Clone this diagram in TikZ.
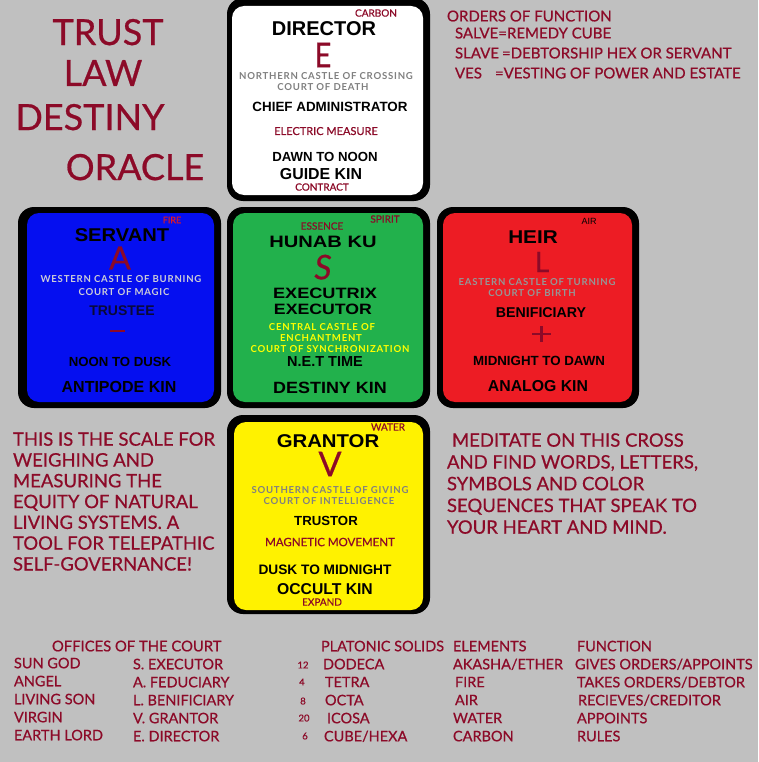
\documentclass[tikz,border=0pt]{standalone}
\usepackage{fontspec}
\setmainfont[FakeBold=0.6]{Lato}
\newfontfamily\arial{Liberation Sans}
\newfontfamily\castle[LetterSpace=8]{Lato}
\newcommand\fs[1]{\fontsize{#1}{#1}\selectfont}
\newcommand\wide[2]{\scalebox{#1}[1]{#2}}
\definecolor{bg}{RGB}{192,192,192}
\definecolor{maroon}{RGB}{140,10,40}
\definecolor{bblue}{RGB}{5,15,240}
\definecolor{bgreen}{RGB}{34,177,76}
\definecolor{bred}{RGB}{237,28,36}
\definecolor{byellow}{RGB}{255,242,0}
\definecolor{gray1}{RGB}{128,128,128}
\definecolor{gray2}{RGB}{150,150,150}
\definecolor{lgray}{RGB}{205,205,215}
\definecolor{yel}{RGB}{255,255,0}
\definecolor{navy}{RGB}{10,10,55}
\definecolor{firered}{RGB}{225,25,35}
\begin{document}
\begin{tikzpicture}[x=1pt,y=-1pt,
  every node/.style={inner sep=0pt,outer sep=0pt,text depth=0pt},
  hd/.style={font=\arial\bfseries\fs{18.5}},
  bd/.style={font=\arial\bfseries\fs{#1}},
  mr/.style={text=maroon,font=\fs{#1}},
  cs/.style={font=\castle\bfseries\fs{#1}},
  big/.style={text=maroon,font=\fs{34}},
  lw/.style={anchor=west,text=maroon,font=\fs{#1}},
  ttl/.style={text=maroon,font=\fs{36}},
  outerbox/.style={fill=black,rounded corners=16pt},
  innerbox/.style={rounded corners=12pt}]
\fill[bg] (0,0) rectangle (758,762);
\useasboundingbox (0,0) rectangle (758,762);
% boxes
\fill[outerbox] (227,-2) rectangle (430,201);
\fill[innerbox,fill=white] (232,6) rectangle (423,195);
\fill[outerbox] (18,207) rectangle (221,408);
\fill[innerbox,fill=bblue] (27,213) rectangle (214,402);
\fill[outerbox] (227,207) rectangle (430,408);
\fill[innerbox,fill=bgreen] (233,213) rectangle (423,402);
\fill[outerbox] (437,207) rectangle (639,408);
\fill[innerbox,fill=bred] (443,213) rectangle (632,402);
\fill[outerbox] (227,415) rectangle (430,614);
\fill[innerbox,fill=byellow] (234,422) rectangle (423,610);
% title
\node[ttl] (trust) at (108,32) {TRUST};
\node[ttl] (law) at (103,73) {LAW};
\node[ttl] (destiny) at (90,117) {DESTINY};
\node[ttl] (oracle) at (135,167) {ORACLE};
% top box
\node[mr=10] (carbon) at (376,13) {CARBON};
\node[hd,font=\arial\bfseries\fs{20}] (director) at (324,29) {DIRECTOR};
\node[big] (e) at (323,55) {\wide{0.85}{E}};
\node[cs=9.6,text=gray1] (nc1) at (326,76) {NORTHERN CASTLE OF CROSSING};
\node[cs=9.6,text=gray1] (nc2) at (323,87) {COURT OF DEATH};
\node[bd=13.4] (chief) at (330,107) {CHIEF ADMINISTRATOR};
\node[mr=11] (electric) at (326,131) {ELECTRIC MEASURE};
\node[bd=13.2] (dawn) at (325,157) {DAWN TO NOON};
\node[bd=15.9] (guide) at (321,174) {GUIDE KIN};
\node[mr=10] (contract) at (322,187) {CONTRACT};
% left box
\node[text=firered,font=\fs{9}] (fire) at (172,220) {FIRE};
\node[hd] (servant) at (122,235) {\wide{1.09}{SERVANT}};
\node[big,font=\fs{32}] (a) at (120,258) {A};
\node[cs=9.6,text=lgray] (wc1) at (121,279) {WESTERN CASTLE OF BURNING};
\node[cs=9.6,text=lgray] (wc2) at (124,292) {COURT OF MAGIC};
\node[bd=14,text=navy] (trustee) at (122,311) {TRUSTEE};
\draw[maroon,line width=2.5pt] (110,331) -- (125,331);
\node[bd=13.2,text=black] (noon) at (120,362) {NOON TO DUSK};
\node[bd=16,text=black] (antipode) at (119,387) {ANTIPODE KIN};
% center box
\node[mr=10] (essence) at (322,226) {ESSENCE};
\node[mr=10] (spirit) at (385,219) {SPIRIT};
\node[hd,font=\arial\bfseries\fs{16.5}] (hunab) at (323,242) {\wide{1.22}{HUNAB KU}};
\node[big,font=\itshape\fs{34}] (s) at (323,267) {S};
\node[bd=15] (executrix) at (325,293) {\wide{1.21}{EXECUTRIX}};
\node[bd=15] (executor) at (323,309) {\wide{1.18}{EXECUTOR}};
\node[cs=9.6,text=yel] (cc1) at (322,327) {CENTRAL CASTLE OF};
\node[cs=9.6,text=yel] (cc2) at (321,338) {ENCHANTMENT};
\node[cs=9.6,text=yel] (cc3) at (330,349) {COURT OF SYNCHRONIZATION};
\node[bd=14.5] (net) at (325,362) {N.E.T TIME};
\node[bd=16.3] (destinykin) at (330,388) {\wide{1.1}{DESTINY KIN}};
% right box
\node[font=\arial\fs{9}] (air) at (589,221) {AIR};
\node[hd] (heir) at (533,237) {\wide{1.12}{HEIR}};
\node[big,font=\fs{28}] (l) at (542,262) {L};
\node[cs=9.6,text=gray2] (ec1) at (537,282) {EASTERN CASTLE OF TURNING};
\node[cs=9.6,text=gray2] (ec2) at (532,293) {COURT OF BIRTH};
\node[bd=14.2] (benif) at (541,313) {BENIFICIARY};
\draw[maroon,line width=2.2pt] (532,334) -- (551,334) (541.5,326) -- (541.5,342);
\node[bd=13.3] (midnight) at (539,361) {MIDNIGHT TO DAWN};
\node[bd=15.8] (analog) at (538,386) {ANALOG KIN};
% bottom box
\node[mr=10] (water) at (388,427) {WATER};
\node[hd] (grantor) at (328,441) {\wide{1.1}{GRANTOR}};
\node[big] (v) at (330,464) {V};
\node[cs=9.6,text=gray1] (sc1) at (330,490) {SOUTHERN CASTLE OF GIVING};
\node[cs=9.6,text=gray1] (sc2) at (329,501) {COURT OF INTELLIGENCE};
\node[bd=13.2] (trustor) at (326,521) {TRUSTOR};
\node[mr=11.5] (magnetic) at (330,542) {MAGNETIC MOVEMENT};
\node[bd=13.7] (dusk) at (325,570) {DUSK TO MIDNIGHT};
\node[bd=15.7] (occult) at (325,589) {OCCULT KIN};
\node[mr=10] (expand) at (322,602) {EXPAND};
% top right
\node[lw=15] (orders) at (447,16) {ORDERS OF FUNCTION};
\node[lw=15] (salve) at (455,33) {SALVE=REMEDY CUBE};
\node[lw=15] (slave) at (455,53) {SLAVE\hspace{3pt}=DEBTORSHIP HEX OR SERVANT};
\node[lw=15] (ves) at (455,73) {VES\hspace{13pt}=VESTING OF POWER AND ESTATE};
% left paragraph
\node[lw=18.5] (p1) at (13,439) {THIS IS THE SCALE FOR};
\node[lw=18.5] (p2) at (13,459.8) {WEIGHING AND};
\node[lw=18.5] (p3) at (13,480.6) {MEASURING THE};
\node[lw=18.5] (p4) at (13,501.4) {EQUITY OF NATURAL};
\node[lw=18.5] (p5) at (13,522.2) {LIVING SYSTEMS. A};
\node[lw=18.5] (p6) at (13,543) {TOOL FOR TELEPATHIC};
\node[lw=18.5] (p7) at (13,563.8) {SELF-GOVERNANCE!};
% right paragraph
\node[lw=18.5] (m1) at (452,440) {MEDITATE ON THIS CROSS};
\node[lw=18.5] (m2) at (447,461.8) {AND FIND WORDS, LETTERS,};
\node[lw=18.5] (m3) at (447,483.5) {SYMBOLS AND COLOR};
\node[lw=18.5] (m4) at (447,505.3) {SEQUENCES THAT SPEAK TO};
\node[lw=18.5] (m5) at (447,527) {YOUR HEART AND MIND.};
% table
\node[lw=14.8] (offices) at (52,646) {OFFICES OF THE COURT};
\node[lw=14.5] (o1) at (14,663) {SUN GOD};
\node[lw=14.5] (o2) at (14,681) {ANGEL};
\node[lw=14.5] (o3) at (14,699) {LIVING SON};
\node[lw=14.5] (o4) at (14,717) {VIRGIN};
\node[lw=14.5] (o5) at (14,735) {EARTH LORD};
\node[lw=14.5] (c1) at (133,664) {S. EXECUTOR};
\node[lw=14.5] (c2) at (133,682) {A. FEDUCIARY};
\node[lw=14.5] (c3) at (133,700) {L. BENIFICIARY};
\node[lw=14.5] (c4) at (133,718) {V. GRANTOR};
\node[lw=14.5] (c5) at (133,736) {E. DIRECTOR};
\node[mr=9.5] (n1) at (303,665) {12};
\node[mr=9.5] (n2) at (302,682) {4};
\node[mr=9.5] (n3) at (303,701) {8};
\node[mr=9.5] (n4) at (304,718) {20};
\node[mr=9.5] (n5) at (305,736) {6};
\node[lw=14.5] (platonic) at (321,646) {PLATONIC SOLIDS};
\node[lw=14.5] (s1) at (323,664) {DODECA};
\node[lw=14.5] (s2) at (325,682) {TETRA};
\node[lw=14.5] (s3) at (325,700) {OCTA};
\node[lw=14.5] (s4) at (327,718) {ICOSA};
\node[lw=14.5] (s5) at (324,736) {CUBE/HEXA};
\node[lw=14.5] (elements) at (453,646) {ELEMENTS};
\node[lw=14.5] (e1) at (453,664) {AKASHA/ETHER};
\node[lw=14.5] (e2) at (455,682) {FIRE};
\node[lw=14.5] (e3) at (455,700) {AIR};
\node[lw=14.5] (e4) at (453,718) {WATER};
\node[lw=14.5] (e5) at (453,736) {CARBON};
\node[lw=14.5] (function) at (577,646) {FUNCTION};
\node[lw=14.5] (f1) at (575,664) {GIVES ORDERS/APPOINTS};
\node[lw=14.5] (f2) at (577,682) {TAKES ORDERS/DEBTOR};
\node[lw=14.5] (f3) at (578,700) {RECIEVES/CREDITOR};
\node[lw=14.5] (f4) at (577,718) {APPOINTS};
\node[lw=14.5] (f5) at (577,736) {RULES};
\end{tikzpicture}
\end{document}
